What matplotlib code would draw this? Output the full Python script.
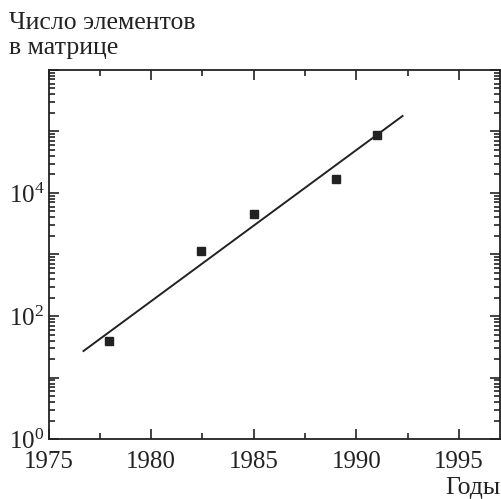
import math
import matplotlib
matplotlib.use("Agg")
import matplotlib.pyplot as plt
from matplotlib.ticker import MultipleLocator, LogLocator, FuncFormatter, NullFormatter

plt.rcParams['font.family'] = ['Liberation Serif', 'DejaVu Serif']
plt.rcParams['mathtext.fontset'] = 'stix'

# data points (year, number of elements)
years = [1977.95, 1982.45, 1985.0, 1989.0, 1991.0]
counts = [39, 1120, 4500, 17000, 88000]

# fitted trend line ends
fit_years = [1976.7, 1992.25]
fit_counts = [27, 178000]

fig = plt.figure(figsize=(5.01, 4.99), dpi=100)
ax = fig.add_axes([0.097, 0.120, 0.901, 0.740])

ax.plot(fit_years, fit_counts, color='#222222', lw=1.4)
ax.plot(years, counts, 's', color='#222222', ms=6)

ax.set_yscale('log')
ax.set_xlim(1975, 1997)
ax.set_ylim(1, 1e6)

ax.xaxis.set_major_locator(MultipleLocator(5))
ax.xaxis.set_minor_locator(MultipleLocator(2.5))
ax.yaxis.set_major_locator(LogLocator(base=10, numticks=20))
ax.yaxis.set_minor_locator(LogLocator(base=10, subs=range(2, 10), numticks=20))
ax.yaxis.set_minor_formatter(NullFormatter())

def ylab(v, pos):
    if v in (1, 100, 10000):
        e = int(round(math.log10(v)))
        return r'$\mathregular{10^{%d}}$' % e
    return ''
ax.yaxis.set_major_formatter(FuncFormatter(ylab))

ax.tick_params(which='both', direction='in', top=True, right=True,
               labelsize=18, colors='#222222', width=1.2)
ax.tick_params(which='major', length=7)
ax.tick_params(which='minor', length=4)
ax.tick_params(axis='x', pad=8.5)
ax.tick_params(axis='y', pad=3)
for s in ax.spines.values():
    s.set_linewidth(1.3)
    s.set_color('#222222')

fig.text(0.018, 0.975, 'Число элементов\nв матрице', fontsize=18.5,
         color='#222222', va='top', linespacing=1.15)
fig.text(0.998, 0.0, 'Годы', fontsize=18.5, color='#222222',
         ha='right', va='bottom')

fig.savefig('out.png', dpi=100)
